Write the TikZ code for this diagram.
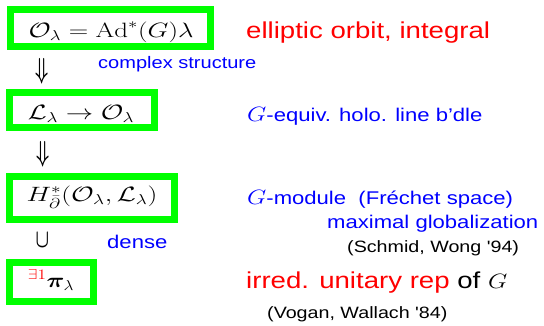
\documentclass[tikz,border=0pt]{standalone}
\usepackage{fontspec}
\setsansfont{Liberation Sans}
\usepackage{amsmath,bm}
\usepackage{graphicx}
\definecolor{boxgreen}{RGB}{0,255,0}
\definecolor{tblue}{RGB}{0,0,255}
\definecolor{tred}{RGB}{255,0,0}
\newcommand\hs[2][1.2]{\scalebox{#1}[1]{#2}}
\newcommand\mG{{\fontsize{20.74}{24}\selectfont$G$}}
\begin{document}
\begin{tikzpicture}[x=1pt,y=-1pt,
  gbox/.style={draw=boxgreen, line width=7pt, inner sep=0pt},
  mth/.style={anchor=base, inner sep=0pt, font=\fontsize{20.74}{24}\selectfont},
  lbl/.style={anchor=base west, inner sep=0pt},
  big/.style={lbl, font=\sffamily\fontsize{23}{27}\selectfont},
  med/.style={lbl, font=\sffamily\fontsize{18.4}{22}\selectfont},
  sml/.style={lbl, font=\sffamily\fontsize{16.4}{20}\selectfont},
  sym/.style={anchor=center, inner sep=0pt, font=\fontsize{20.74}{24}\selectfont}]
\useasboundingbox (0,0) rectangle (544,325);
% boxes
\node[gbox, minimum width=200pt, minimum height=37pt] (b1) at (110.5,28) {};
\node[gbox, minimum width=144.8pt, minimum height=34.7pt] (b2) at (81.9,110.15) {};
\node[gbox, minimum width=165pt, minimum height=43pt] (b3) at (92,197.5) {};
\node[gbox, minimum width=84pt, minimum height=39pt] (b4) at (51.7,282.3) {};
% box contents
\node[mth] (t1) at (111,37.5) {\hs[1.3]{$\mathcal{O}_\lambda = \mathrm{Ad}^*(G)\lambda$}};
\node[mth] (t2) at (81,119) {\hs[1.32]{$\mathcal{L}_\lambda \rightarrow \mathcal{O}_\lambda$}};
\node[mth] (t3) at (92,201) {\hs[1.33]{$H^*_{\bar\partial}(\mathcal{O}_\lambda,\mathcal{L}_\lambda)$}};
\node[mth] (t4) at (51,287) {\hs[1.2]{${}^{\textcolor{tred}{\exists 1}}\bm{\pi}_\lambda$}};
% connecting symbols
\node[sym] (d1) at (42,71.5) {\scalebox{0.9}[1.4]{$\bm{\Downarrow}$}};
\node[sym] (d2) at (43,154.5) {\scalebox{0.9}[1.4]{$\bm{\Downarrow}$}};
\node[sym] (c1) at (42.5,240) {\scalebox{0.85}[1.25]{$\bm{\cup}$}};
% labels
\node[big, text=tred] (l1) at (246,38) {\hs{elliptic orbit, integral}};
\node[lbl, font=\sffamily\fontsize{16.7}{20}\selectfont, text=tblue] (l2) at (98,68.7) {\hs{complex structure}};
\node[med, text=tblue] (l3) at (247,121) {\hs{\mG-equiv. holo. line b’dle}};
\node[med, text=tblue] (l4) at (247,204) {\hs{\mG-module\ \ (Fréchet space)}};
\node[med, text=tblue] (l5) at (327,228) {\hs{maximal globalization}};
\node[sml] (l6) at (347,252) {\hs{(Schmid, Wong \textquotesingle94)}};
\node[med, text=tblue] (l7) at (107,248) {\hs{dense}};
\node[big] (l8) at (246,288) {\hs{\textcolor{tred}{irred. unitary rep} of \mG}};
\node[sml] (l9) at (267,318) {\hs{(Vogan, Wallach \textquotesingle84)}};
\end{tikzpicture}
\end{document}
